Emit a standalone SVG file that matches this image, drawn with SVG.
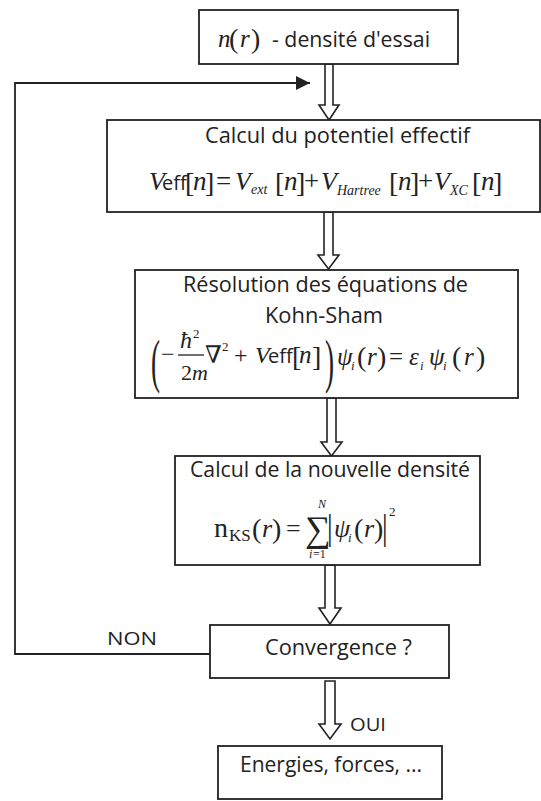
<svg xmlns="http://www.w3.org/2000/svg" width="541" height="801" viewBox="0 0 541 801">
<style>
.box{fill:#fff;stroke:#222;stroke-width:1.8}
.blk{fill:#fff;stroke:#222;stroke-width:1.6;stroke-linejoin:miter}
.ln{fill:none;stroke:#222;stroke-width:1.8}
.s{font-family:"Open Sans","Noto Sans",sans-serif;fill:#222}
.t{font-family:"Open Sans","Noto Sans",sans-serif;fill:#222;font-size:21.5px}
.m{font-family:"Liberation Serif","DejaVu Serif",serif;font-style:italic;fill:#222}
.r{font-family:"Liberation Serif","DejaVu Serif",serif;fill:#222}
</style>
<defs>
<marker id="ah" viewBox="0 0 10 10" refX="10" refY="5" markerWidth="14" markerHeight="14" markerUnits="userSpaceOnUse" orient="auto">
<path d="M0,0 L10,5 L0,10 z" fill="#222"/>
</marker>
</defs>
<rect width="541" height="801" fill="#fff"/>

<g id="connectors">
<polyline class="ln" points="210,654 15,654 15,83 310,83" marker-end="url(#ah)"/>
<polygon class="blk" points="325,64 333,64 333,105 339,105 329,120 319,105 325,105"/>
<polygon class="blk" points="324,212 333,212 333,255 339,255 328.5,269 318,255 324,255"/>
<polygon class="blk" points="327,398 336,398 336,442 342,442 331.5,456 321,442 327,442"/>
<polygon class="blk" points="325,565 335,565 335,608 341,608 330,624 319,608 325,608"/>
<polygon class="blk" points="325,681 335,681 335,724 341,724 330,739 319,724 325,724"/>
<text class="s" x="107" y="645" font-size="19" textLength="50" lengthAdjust="spacingAndGlyphs">NON</text>
<text class="s" x="350" y="731" font-size="19" textLength="36" lengthAdjust="spacingAndGlyphs">OUI</text>
</g>

<g id="n1">
<rect class="box" x="199" y="10" width="259" height="54"/>
<text class="m" x="218" y="47" font-size="25">n</text>
<text class="r" x="229" y="48" font-size="28">(</text>
<text class="m" x="240" y="47" font-size="25">r</text>
<text class="r" x="251" y="48" font-size="28">)</text>
<text class="t" x="272" y="47" textLength="158" lengthAdjust="spacingAndGlyphs">- densité d'essai</text>
</g>

<g id="n2">
<rect class="box" x="107" y="120" width="433" height="92"/>
<text class="t" x="205" y="143" textLength="265" lengthAdjust="spacingAndGlyphs">Calcul du potentiel effectif</text>
<text class="m" x="149" y="190" font-size="26">V</text>
<text class="s" x="162" y="190" font-size="20">eff</text>
<text class="r" x="185" y="192" font-size="28">[</text>
<text class="m" x="193" y="190" font-size="27">n</text>
<text class="r" x="205" y="192" font-size="28">]</text>
<text class="r" x="216" y="190" font-size="27">=</text>
<text class="m" x="235" y="190" font-size="26">V</text>
<text class="m" x="251" y="194" font-size="14">ext</text>
<text class="r" x="275" y="192" font-size="28">[</text>
<text class="m" x="284" y="190" font-size="27">n</text>
<text class="r" x="296" y="192" font-size="28">]</text>
<text class="r" x="304" y="190" font-size="27">+</text>
<text class="m" x="321" y="190" font-size="26">V</text>
<text class="m" x="337" y="195" font-size="14">Hartree</text>
<text class="r" x="389" y="192" font-size="28">[</text>
<text class="m" x="398" y="190" font-size="27">n</text>
<text class="r" x="410" y="192" font-size="28">]</text>
<text class="r" x="418" y="190" font-size="27">+</text>
<text class="m" x="434" y="190" font-size="26">V</text>
<text class="m" x="450" y="195" font-size="14">XC</text>
<text class="r" x="472" y="192" font-size="28">[</text>
<text class="m" x="481" y="190" font-size="27">n</text>
<text class="r" x="493" y="192" font-size="28">]</text>
</g>

<g id="n3">
<rect class="box" x="135" y="270" width="383" height="128"/>
<text class="t" x="183" y="292" textLength="285" lengthAdjust="spacingAndGlyphs">Résolution des équations de</text>
<text class="t" x="265" y="323" textLength="118" lengthAdjust="spacingAndGlyphs">Kohn-Sham</text>
<text class="r" font-size="34" transform="translate(151,381) scale(0.8,1.75)">(</text>
<text class="r" x="161" y="362" font-size="24">−</text>
<text class="m" x="180" y="348" font-size="24">ħ</text>
<text class="r" x="193" y="338" font-size="13">2</text>
<line x1="178" y1="355" x2="204" y2="355" stroke="#222" stroke-width="1.3"/>
<text class="r" x="181" y="380" font-size="22">2</text>
<text class="m" x="192" y="380" font-size="22">m</text>
<text class="r" x="205" y="363" font-size="24">∇</text>
<text class="r" x="222" y="351" font-size="13">2</text>
<text class="r" x="234" y="363" font-size="24">+</text>
<text class="m" x="255" y="363" font-size="24">V</text>
<text class="s" x="268" y="363" font-size="20">eff</text>
<text class="r" x="292" y="366" font-size="28">[</text>
<text class="m" x="299" y="363" font-size="25">n</text>
<text class="r" x="312" y="366" font-size="28">]</text>
<text class="r" font-size="34" transform="translate(325,381) scale(0.8,1.75)">)</text>
<text class="m" x="337" y="365" font-size="25">ψ</text>
<text class="m" x="351" y="370" font-size="13">i</text>
<text class="r" x="357" y="366" font-size="28">(</text>
<text class="m" x="367" y="365" font-size="25">r</text>
<text class="r" x="377" y="366" font-size="28">)</text>
<text class="r" x="389" y="365" font-size="25">=</text>
<text class="m" x="409" y="365" font-size="25">ε</text>
<text class="m" x="420" y="370" font-size="13">i</text>
<text class="m" x="429" y="365" font-size="25">ψ</text>
<text class="m" x="443" y="370" font-size="13">i</text>
<text class="r" x="452" y="366" font-size="28">(</text>
<text class="m" x="464" y="365" font-size="25">r</text>
<text class="r" x="476" y="366" font-size="28">)</text>
</g>

<g id="n4">
<rect class="box" x="175" y="456" width="305" height="109"/>
<text class="t" x="190" y="477" textLength="280" lengthAdjust="spacingAndGlyphs">Calcul de la nouvelle densité</text>
<text class="r" x="214" y="537" font-size="28">n</text>
<text class="r" x="229" y="541" font-size="17">KS</text>
<text class="r" x="252" y="538" font-size="28">(</text>
<text class="m" x="262" y="537" font-size="26">r</text>
<text class="r" x="272" y="538" font-size="28">)</text>
<text class="r" x="286" y="537" font-size="26">=</text>
<text class="r" x="305" y="541" font-size="36">∑</text>
<text class="m" x="318" y="508" font-size="12">N</text>
<text class="m" x="309" y="558" font-size="12">i</text>
<text class="r" x="313" y="558" font-size="12">=1</text>
<text class="r" font-size="28" transform="translate(327,539) scale(1,1.3)">|</text>
<text class="m" x="334" y="537" font-size="26">ψ</text>
<text class="m" x="348" y="542" font-size="13">i</text>
<text class="r" x="354" y="538" font-size="28">(</text>
<text class="m" x="364" y="537" font-size="26">r</text>
<text class="r" x="374" y="538" font-size="28">)</text>
<text class="r" font-size="28" transform="translate(382,539) scale(1,1.3)">|</text>
<text class="r" x="389" y="516" font-size="13">2</text>
</g>

<g id="n5">
<rect class="box" x="210" y="625" width="239" height="53"/>
<text class="t" x="265" y="655" textLength="147" lengthAdjust="spacingAndGlyphs">Convergence ?</text>
</g>

<g id="n6">
<rect class="box" x="218" y="746" width="224" height="53"/>
<text class="t" x="240" y="772" textLength="182" lengthAdjust="spacingAndGlyphs">Energies, forces, ...</text>
</g>
</svg>
